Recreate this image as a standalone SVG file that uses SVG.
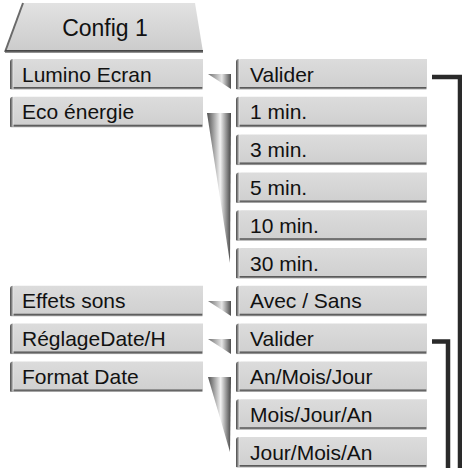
<svg xmlns="http://www.w3.org/2000/svg" xmlns:xlink="http://www.w3.org/1999/xlink" width="462" height="468" viewBox="0 0 462 468">
  <defs>
    <linearGradient id="gFace" x1="0" y1="0" x2="0" y2="1">
      <stop offset="0" stop-color="#dcdcdc"/>
      <stop offset="1" stop-color="#d0d0d0"/>
    </linearGradient>
    <linearGradient id="gEdge" x1="0" y1="0" x2="1" y2="0">
      <stop offset="0" stop-color="#4a4a4a"/>
      <stop offset="0.5" stop-color="#8a8a8a"/>
      <stop offset="1" stop-color="#e6e6e6"/>
    </linearGradient>
    <linearGradient id="gShadow" x1="0" y1="0" x2="0" y2="1">
      <stop offset="0" stop-color="#3c3c3c"/>
      <stop offset="0.6" stop-color="#666"/>
      <stop offset="1" stop-color="#b0b0b0"/>
    </linearGradient>
    <linearGradient id="gTab" x1="0" y1="0" x2="0" y2="1">
      <stop offset="0" stop-color="#e2e2e2"/>
      <stop offset="1" stop-color="#cbcbcb"/>
    </linearGradient>
    <linearGradient id="gSmall" x1="0" y1="0" x2="1" y2="0">
      <stop offset="0" stop-color="#6e6e6e"/>
      <stop offset="0.6" stop-color="#e6e6e6"/>
      <stop offset="1" stop-color="#4e4e4e"/>
    </linearGradient>
    <linearGradient id="gBig" x1="0" y1="0" x2="1" y2="0">
      <stop offset="0" stop-color="#505050"/>
      <stop offset="0.55" stop-color="#f2f2f2"/>
      <stop offset="1" stop-color="#464646"/>
    </linearGradient>
    <g id="lbox">
      <rect x="0.5" y="27" width="192" height="3.5" fill="url(#gShadow)"/>
      <path d="M2,2 Q2,0 5,0 H193 V28 H2 Z" fill="url(#gFace)"/>
      <path d="M0,3 Q0,0 3,0 H3.5 V30 H0 Z" fill="url(#gEdge)"/>
    </g>
    <g id="rbox">
      <rect x="0.5" y="27" width="190" height="3.5" fill="url(#gShadow)"/>
      <path d="M2,2 Q2,0 5,0 H191 V28 H2 Z" fill="url(#gFace)"/>
      <path d="M0,3 Q0,0 3,0 H3.5 V30 H0 Z" fill="url(#gEdge)"/>
    </g>
  </defs>
  <style>
    text { font-family: "Liberation Sans", Arial, sans-serif; font-size: 21px; fill: #111; }
    .tab { font-size: 23px; }
    .tri-s { fill: url(#gSmall); }
    .tri-b { fill: url(#gBig); }
    .br { fill: none; stroke: #2a2a2a; stroke-width: 4.5; stroke-linejoin: miter; stroke-linecap: butt; }
  </style>

  <g id="tab">
    <polygon points="5,52 23,3 195,3 203,52" fill="url(#gTab)"/>
    <polyline points="5,52 23,3" fill="none" stroke="#6a6a6a" stroke-width="2"/>
    <rect x="5" y="50" width="198" height="3" fill="url(#gShadow)"/>
    <text class="tab" x="105" y="36" text-anchor="middle">Config 1</text>
  </g>

  <g id="connectors">
    <polygon class="tri-s" points="208,74 231,74 231,89"/>
    <polygon class="tri-b" points="207,113 231,113 230,263"/>
    <polygon class="tri-s" points="208,301 231,301 231,316"/>
    <polygon class="tri-s" points="208,339 231,339 231,354"/>
    <polygon class="tri-b" points="208,377 231,377 230,452"/>
    <path class="br" d="M432,77 H460 V468"/>
    <path class="br" d="M432,341.5 H448 V468"/>
  </g>

  <g id="l-lumino"><use href="#lbox" x="10" y="59"/><text x="22" y="81.5">Lumino Ecran</text></g>
  <g id="l-eco"><use href="#lbox" x="10" y="96.8"/><text x="22" y="119.3">Eco énergie</text></g>
  <g id="l-effets"><use href="#lbox" x="10" y="285.8"/><text x="22" y="308.3">Effets sons</text></g>
  <g id="l-reglage"><use href="#lbox" x="10" y="323.6"/><text x="22" y="346.1">RéglageDate/H</text></g>
  <g id="l-format"><use href="#lbox" x="10" y="361.4"/><text x="22" y="383.9">Format Date</text></g>

  <g id="r-valider1"><use href="#rbox" x="236" y="59"/><text x="250" y="81.5">Valider</text></g>
  <g id="r-1min"><use href="#rbox" x="236" y="96.8"/><text x="250" y="119.3">1 min.</text></g>
  <g id="r-3min"><use href="#rbox" x="236" y="134.6"/><text x="250" y="157.1">3 min.</text></g>
  <g id="r-5min"><use href="#rbox" x="236" y="172.4"/><text x="250" y="194.9">5 min.</text></g>
  <g id="r-10min"><use href="#rbox" x="236" y="210.2"/><text x="250" y="232.7">10 min.</text></g>
  <g id="r-30min"><use href="#rbox" x="236" y="248"/><text x="250" y="270.5">30 min.</text></g>
  <g id="r-avec"><use href="#rbox" x="236" y="285.8"/><text x="250" y="308.3">Avec / Sans</text></g>
  <g id="r-valider2"><use href="#rbox" x="236" y="323.6"/><text x="250" y="346.1">Valider</text></g>
  <g id="r-amj"><use href="#rbox" x="236" y="361.4"/><text x="250" y="383.9">An/Mois/Jour</text></g>
  <g id="r-mja"><use href="#rbox" x="236" y="399.2"/><text x="250" y="421.7">Mois/Jour/An</text></g>
  <g id="r-jma"><use href="#rbox" x="236" y="437"/><text x="250" y="459.5">Jour/Mois/An</text></g>
</svg>
